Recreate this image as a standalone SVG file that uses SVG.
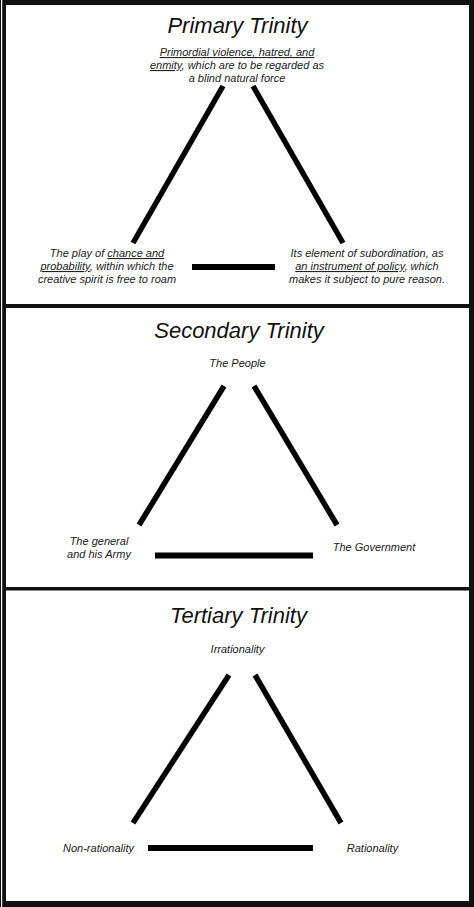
<svg xmlns="http://www.w3.org/2000/svg" width="474" height="907" viewBox="0 0 474 907">
<style>
.title{font-family:"Liberation Sans",Arial,sans-serif;font-style:italic;font-size:22px;fill:#111;text-anchor:middle}
.lbl{font-family:"Liberation Sans",Arial,sans-serif;font-style:italic;font-size:11px;fill:#222;text-anchor:middle}
.u{text-decoration:underline}
.leg{stroke:#000;stroke-width:5.5;fill:none}
.bar{stroke:#000;stroke-width:6;fill:none}
</style>
<g id="frame">
<rect x="0" y="0" width="474" height="907" fill="#111"/>
<rect x="1" y="0" width="1.2" height="907" fill="#fff"/>
<rect x="6" y="5" width="463" height="896" fill="#fff"/>
<rect x="6" y="304" width="463" height="4" fill="#111"/>
<rect x="6" y="587" width="463" height="3.5" fill="#111"/>
</g>
<g id="connectors">
<line class="leg" x1="223" y1="86" x2="133" y2="243"/>
<line class="leg" x1="253" y1="86" x2="343" y2="243"/>
<line class="bar" x1="192" y1="267" x2="275" y2="267"/>
<line class="leg" x1="224" y1="386" x2="139" y2="525"/>
<line class="leg" x1="254" y1="386" x2="337" y2="525"/>
<line class="bar" x1="155" y1="555.5" x2="313" y2="555.5"/>
<line class="leg" x1="229" y1="675" x2="133" y2="823"/>
<line class="leg" x1="255" y1="675" x2="341" y2="823"/>
<line class="bar" x1="148" y1="848" x2="313" y2="848"/>
</g>
<g id="title1"><text class="title" x="237.5" y="33">Primary Trinity</text></g>
<g id="node-violence">
<text class="lbl" x="237" y="56"><tspan class="u">Primordial violence, hatred, and</tspan></text>
<text class="lbl" x="237" y="69"><tspan class="u">enmity</tspan>, which are to be regarded as</text>
<text class="lbl" x="237" y="82">a blind natural force</text>
</g>
<g id="node-chance">
<text class="lbl" x="107" y="257">The play of <tspan class="u">chance and</tspan></text>
<text class="lbl" x="107" y="270"><tspan class="u">probability</tspan>, within which the</text>
<text class="lbl" x="107" y="283">creative spirit is free to roam</text>
</g>
<g id="node-policy">
<text class="lbl" x="367" y="257">Its element of subordination, as</text>
<text class="lbl" x="367" y="270"><tspan class="u">an instrument of policy</tspan>, which</text>
<text class="lbl" x="367" y="283">makes it subject to pure reason.</text>
</g>
<g id="title2"><text class="title" x="239" y="338">Secondary Trinity</text></g>
<g id="node-people"><text class="lbl" x="237.5" y="367">The People</text></g>
<g id="node-army">
<text class="lbl" x="99" y="545">The general</text>
<text class="lbl" x="99" y="558">and his Army</text>
</g>
<g id="node-government"><text class="lbl" x="374" y="551">The Government</text></g>
<g id="title3"><text class="title" x="238.5" y="623">Tertiary Trinity</text></g>
<g id="node-irrationality"><text class="lbl" x="237.5" y="653">Irrationality</text></g>
<g id="node-nonrationality"><text class="lbl" x="98.5" y="852">Non-rationality</text></g>
<g id="node-rationality"><text class="lbl" x="372.5" y="852">Rationality</text></g>
</svg>
